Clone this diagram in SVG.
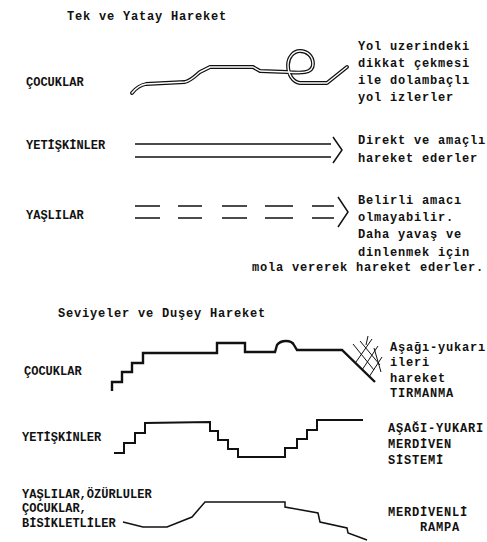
<svg xmlns="http://www.w3.org/2000/svg" width="487" height="542" viewBox="0 0 487 542">
<style>
text{font-family:"Liberation Mono","Courier New",monospace;font-weight:bold;fill:#111;}
.t{font-size:12px;letter-spacing:0.8px;}
.l{font-size:12px;letter-spacing:0px;}
.ln{fill:none;stroke:#111;stroke-linecap:butt;stroke-linejoin:miter;}
.dbl{fill:none;stroke:#111;stroke-width:3.8;stroke-linejoin:round;stroke-linecap:round;}
.dblw{fill:none;stroke:#fff;stroke-width:1.4;stroke-linejoin:round;stroke-linecap:round;}
</style>
<rect width="487" height="542" fill="#fff"/>
<defs>
<path id="kidpath" d="M132,93 C136,88 140,85 146,84 L185,82 C192,80 196,75 200,72 L210,67 L253,67 L260,71 L287,72 C300,73 313,74 313,64 C313,56 307,51 300,51 C293,51 288,58 288,65 C288,75 293,82 300,83 L327,83 L347,67"/>
</defs>

<g id="title1"><text class="t" x="67" y="20">Tek ve Yatay Hareket</text></g>

<g id="cocuklar1">
<text class="l" x="26" y="86">ÇOCUKLAR</text>
<text class="t" x="358" y="50">Yol uzerindeki</text>
<text class="t" x="358" y="67">dikkat çekmesi</text>
<text class="t" x="358" y="84">ile dolambaçlı</text>
<text class="t" x="358" y="101">yol izlerler</text>
</g>

<g id="yetiskinler1">
<text class="l" x="26" y="149">YETİŞKİNLER</text>
<text class="t" x="358" y="144">Direkt ve amaçlı</text>
<text class="t" x="358" y="162">hareket ederler</text>
</g>

<g id="yaslilar1">
<text class="l" x="26" y="219">YAŞLILAR</text>
<text class="t" x="358" y="204">Belirli amacı</text>
<text class="t" x="358" y="221">olmayabilir.</text>
<text class="t" x="358" y="238">Daha yavaş ve</text>
<text class="t" x="358" y="256">dinlenmek için</text>
<text class="t" x="252" y="271">mola vererek hareket ederler.</text>
</g>

<g id="title2"><text class="t" x="58" y="317">Seviyeler ve Duşey Hareket</text></g>

<g id="cocuklar2">
<text class="l" x="24" y="375">ÇOCUKLAR</text>
<text class="t" x="390" y="351">Aşağı-yukarı</text>
<text class="t" x="390" y="366">ileri</text>
<text class="t" x="390" y="382">hareket</text>
<text class="t" x="390" y="397">TIRMANMA</text>
</g>

<g id="yetiskinler2">
<text class="l" x="22" y="441">YETİŞKİNLER</text>
<text class="t" x="388" y="432">AŞAĞI-YUKARI</text>
<text class="t" x="388" y="448">MERDİVEN</text>
<text class="t" x="388" y="464">SİSTEMİ</text>
</g>

<g id="yaslilar2">
<text class="l" x="22" y="498">YAŞLILAR,ÖZÜRLULER</text>
<text class="l" x="22" y="512">ÇOCUKLAR,</text>
<text class="l" x="22" y="527">BİSİKLETLİLER</text>
<text class="t" x="388" y="516">MERDİVENLİ</text>
<text class="t" x="420" y="531">RAMPA</text>
</g>

<g id="connectors">
<use href="#kidpath" class="dbl"/>
<use href="#kidpath" class="dblw"/>

<path class="ln" stroke-width="1.5" d="M135,144 H331 M135,157 H331"/>
<path class="ln" stroke-width="1.5" d="M333,137 L342,150 L333,163"/>

<path class="ln" stroke-width="1.5" d="M135,206 H160 M178,206 H202 M222,206 H247 M265,206 H293 M312,206 H334 M135,218 H160 M178,218 H202 M222,218 H247 M265,218 H293 M312,218 H334"/>
<path class="ln" stroke-width="1.5" d="M338,197 L348,212 L338,227"/>

<path class="ln" stroke-width="2.4" d="M112,391 L112,382 L122,382 L122,372 L132,372 L132,363 L143,363 L143,353 L217,353 L217,343 L245,343 L245,352 L275,352 L277,345 Q280,341 286,341 Q292,341 294,345 L297,350 L342,350 L375,382"/>
<path class="ln" stroke-width="1" d="M353,344 L374,370 M360,341 L380,365 M356,362 L372,339 M362,370 L378,346 M369,377 L382,357 M366,345 L368,336 M374,348 L381,372"/>

<path class="ln" stroke-width="2" d="M114,453 L124,453 L124,443 L135,443 L135,433 L145,433 L145,423 L210,422 L210,431 L218,431 L218,440 L228,440 L228,449 L238,449 L238,457 L285,457 L285,448 L297,448 L297,439 L307,439 L307,430 L317,430 L317,420 L363,420"/>

<path class="ln" stroke-width="1.5" d="M123,522 L143,527 L167,527 L192,517 L205,502 L285,502 L285,507 L318,513 L320,522 L347,528 L348,533 L367,540"/>
</g>
</svg>
